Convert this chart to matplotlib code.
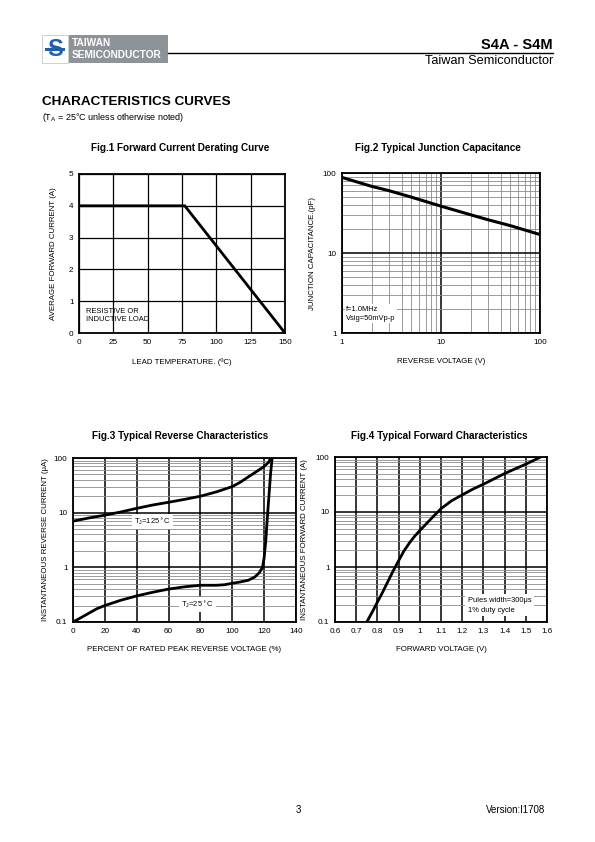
import numpy as np
import matplotlib
matplotlib.use("Agg")
import matplotlib.pyplot as plt
from matplotlib.patches import Rectangle
from matplotlib.ticker import LogLocator, NullFormatter

plt.rcParams['font.family'] = ['Liberation Sans', 'DejaVu Sans']

# ---------------- data ----------------
# Fig.1 derating
fig1_temp = [0, 77, 150]
fig1_current = [4.0, 4.0, 0.0]
fig1_xticks = [0, 25, 50, 75, 100, 125, 150]
fig1_xlabels = ['0', '25', '50', '75', '100', '125', '150']
fig1_yticks = [0, 1, 2, 3, 4, 5]

# Fig.2 junction capacitance
fig2_volt = [1, 2, 3, 5, 10, 20, 30, 50, 100]
fig2_cap = [88, 68, 60, 50, 38.5, 30, 26, 22, 17]

# Fig.3 reverse characteristics
fig3_pct_125 = [0, 10, 20, 30, 40, 50, 60, 70, 80, 90, 100, 105, 110, 115, 120, 123, 124]
fig3_ir_125 = [7, 8, 9, 10.3, 12, 13.8, 15.5, 17.5, 20, 24, 30, 36, 45, 56, 70, 85, 100]
fig3_pct_25 = [0, 5, 10, 15, 20, 30, 40, 50, 60, 70, 80, 90, 95, 100, 105, 110, 114, 117, 119, 120, 121, 122, 123, 124, 125]
fig3_ir_25 = [0.1, 0.12, 0.145, 0.175, 0.2, 0.25, 0.3, 0.35, 0.4, 0.44, 0.47, 0.47, 0.48, 0.51, 0.54, 0.58, 0.66, 0.8, 1.0, 1.5, 3.0, 8.0, 20, 50, 100]
fig3_xticks = [0, 20, 40, 60, 80, 100, 120, 140]

# Fig.4 forward characteristics
fig4_vf = [0.75, 0.775, 0.8, 0.825, 0.85, 0.875, 0.9, 0.925, 0.95, 0.975, 1.0, 1.025, 1.05, 1.075, 1.1, 1.15, 1.2, 1.25, 1.3, 1.35, 1.4, 1.45, 1.5, 1.57]
fig4_if = [0.1, 0.15, 0.23, 0.35, 0.55, 0.86, 1.3, 1.95, 2.7, 3.6, 4.6, 5.8, 7.3, 9.2, 11.5, 16, 20.5, 26, 32, 40, 50, 61, 74, 100]
fig4_xticks = [0.6, 0.7, 0.8, 0.9, 1.0, 1.1, 1.2, 1.3, 1.4, 1.5, 1.6]
fig4_xlabels = ['0.6', '0.7', '0.8', '0.9', '1', '1.1', '1.2', '1.3', '1.4', '1.5', '1.6']

log_yticks = [0.1, 1, 10, 100]
log_ylabels = ['0.1', '1', '10', '100']

W, H = 595, 842
fig = plt.figure(figsize=(W / 100, H / 100), dpi=100)

def fx(px):
    return px / W

def fy(py):
    return 1 - py / H

def ax_rect(l, t, r, b):
    return [fx(l), fy(b), (r - l) / W, (b - t) / H]

TICK_FS = 5.9
LAB_FS = 5.7
TITLE_FS = 7.2

def style(ax):
    for s in ax.spines.values():
        s.set_linewidth(1.3)
        s.set_color('black')
    ax.tick_params(which='both', length=0, labelsize=TICK_FS, pad=4, colors='black')

def place_ylabel(ax, text, px_center, left, right):
    ax.set_ylabel(text, fontsize=LAB_FS)
    ax.yaxis.set_label_coords((px_center + 5 - left) / (right - left), 0.5)

# ---------------- header ----------------
fig.patches.append(Rectangle((fx(42), fy(63)), 26 / W, 28 / H, transform=fig.transFigure,
                             facecolor='white', edgecolor='#c8c8c8', lw=0.6))
fig.text(fx(55), fy(50), 'S', color='#1f5fae', fontsize=17, fontweight='bold',
         ha='center', va='center')
fig.patches.append(Rectangle((fx(45), fy(50.5)), 20 / W, 2 / H, transform=fig.transFigure,
                             facecolor='#1f5fae', edgecolor='none'))
fig.patches.append(Rectangle((fx(69), fy(63)), 99 / W, 28 / H, transform=fig.transFigure,
                             facecolor='#8d9399', edgecolor='none'))
fig.text(fx(72), fy(42.5), 'TAIWAN', color='white', fontsize=7.3, fontweight='bold',
         ha='left', va='center')
fig.text(fx(72), fy(55.5), 'SEMICONDUCTOR', color='white', fontsize=7.3, fontweight='bold',
         ha='left', va='center')
fig.add_artist(plt.Line2D([fx(168), fx(553)], [fy(53), fy(53)], color='black', lw=1.0,
                          transform=fig.transFigure))
fig.text(fx(553), fy(45), 'S4A - S4M', fontsize=10.5, fontweight='bold', ha='right', va='center')
fig.text(fx(553), fy(61), 'Taiwan Semiconductor', fontsize=9.2, ha='right', va='center')

fig.text(fx(42), fy(102), 'CHARACTERISTICS CURVES', fontsize=9.7, fontweight='bold',
         ha='left', va='center')
fig.text(fx(42), fy(117), r'(T$_\mathregular{A}$ = 25°C unless otherwise noted)', fontsize=6.5,
         ha='left', va='center')

# ---------------- Fig.1 ----------------
ax1 = fig.add_axes(ax_rect(79, 174, 285, 333))
ax1.plot(fig1_temp, fig1_current, color='black', lw=2.0, solid_joinstyle='miter')
ax1.set_xlim(0, 150)
ax1.set_ylim(0, 5)
ax1.set_xticks(fig1_xticks)
ax1.set_xticklabels(fig1_xlabels)
ax1.set_yticks(fig1_yticks)
ax1.grid(True, color='black', lw=0.9)
ax1.set_axisbelow(True)
style(ax1)
ax1.text(5, 0.55, 'RESISTIVE OR\nINDUCTIVE LOAD', fontsize=5.4, ha='left', va='center',
         linespacing=1.3)
ax1.set_xlabel('LEAD TEMPERATURE. (ºC)', fontsize=LAB_FS, labelpad=9)
place_ylabel(ax1, 'AVERAGE FORWARD CURRENT (A)', 52, 79, 285)
fig.text(fx(180), fy(148), 'Fig.1 Forward Current Derating Curve', fontsize=TITLE_FS,
         fontweight='bold', ha='center', va='center')

# ---------------- Fig.2 ----------------
ax2 = fig.add_axes(ax_rect(342, 173, 540, 333))
ax2.set_xscale('log')
ax2.set_yscale('log')
ax2.plot(fig2_volt, fig2_cap, color='black', lw=2.2)
ax2.set_xlim(1, 100)
ax2.set_ylim(1, 100)
ax2.set_xticks([1, 10, 100])
ax2.set_xticklabels(['1', '10', '100'])
ax2.set_yticks([1, 10, 100])
ax2.set_yticklabels(['1', '10', '100'])
ax2.xaxis.set_minor_locator(LogLocator(base=10, subs=np.arange(2, 10)))
ax2.yaxis.set_minor_locator(LogLocator(base=10, subs=np.arange(2, 10)))
ax2.xaxis.set_minor_formatter(NullFormatter())
ax2.yaxis.set_minor_formatter(NullFormatter())
ax2.grid(True, which='major', color='black', lw=1.1)
ax2.grid(True, which='minor', color='#8a8a8a', lw=0.6)
ax2.set_axisbelow(True)
style(ax2)
ax2.text(1.1, 1.75, 'f=1.0MHz\nVsig=50mVp-p', fontsize=5.4, ha='left', va='center',
         linespacing=1.4,
         bbox=dict(facecolor='white', edgecolor='none', pad=1.0))
ax2.set_xlabel('REVERSE VOLTAGE (V)', fontsize=LAB_FS, labelpad=9)
place_ylabel(ax2, 'JUNCTION CAPACITANCE.(pF)', 311, 342, 540)
fig.text(fx(438), fy(148), 'Fig.2 Typical Junction Capacitance', fontsize=TITLE_FS,
         fontweight='bold', ha='center', va='center')

# ---------------- Fig.3 ----------------
ax3 = fig.add_axes(ax_rect(73, 458, 296, 622))
ax3.set_yscale('log')
ax3.plot(fig3_pct_125, fig3_ir_125, color='black', lw=2.0)
ax3.plot(fig3_pct_25, fig3_ir_25, color='black', lw=2.0)
ax3.set_xlim(0, 140)
ax3.set_ylim(0.1, 100)
ax3.set_xticks(fig3_xticks)
ax3.set_yticks(log_yticks)
ax3.set_yticklabels(log_ylabels)
ax3.yaxis.set_minor_locator(LogLocator(base=10, subs=np.arange(2, 10)))
ax3.yaxis.set_minor_formatter(NullFormatter())
ax3.grid(True, which='major', color='black', lw=1.1)
ax3.grid(True, which='minor', axis='y', color='#8a8a8a', lw=0.6)
ax3.set_axisbelow(True)
style(ax3)
ax3.text(50, 6.8, r'T$_\mathregular{J}$=125$^\circ$C', fontsize=5.4, ha='center', va='center',
         bbox=dict(facecolor='white', edgecolor='none', pad=1.5))
ax3.text(78, 0.21, r'T$_\mathregular{J}$=25$^\circ$C', fontsize=5.4, ha='center', va='center',
         bbox=dict(facecolor='white', edgecolor='none', pad=1.5))
ax3.set_xlabel('PERCENT OF RATED PEAK REVERSE VOLTAGE (%)', fontsize=LAB_FS, labelpad=8)
place_ylabel(ax3, 'INSTANTANEOUS REVERSE CURRENT (μA)', 44, 73, 296)
fig.text(fx(180), fy(436), 'Fig.3 Typical Reverse Characteristics', fontsize=TITLE_FS,
         fontweight='bold', ha='center', va='center')

# ---------------- Fig.4 ----------------
ax4 = fig.add_axes(ax_rect(335, 457, 547, 622))
ax4.set_yscale('log')
ax4.plot(fig4_vf, fig4_if, color='black', lw=2.0)
ax4.set_xlim(0.6, 1.6)
ax4.set_ylim(0.1, 100)
ax4.set_xticks(fig4_xticks)
ax4.set_xticklabels(fig4_xlabels)
ax4.set_yticks(log_yticks)
ax4.set_yticklabels(log_ylabels)
ax4.yaxis.set_minor_locator(LogLocator(base=10, subs=np.arange(2, 10)))
ax4.yaxis.set_minor_formatter(NullFormatter())
ax4.grid(True, which='major', color='black', lw=1.1)
ax4.grid(True, which='minor', axis='y', color='#8a8a8a', lw=0.6)
ax4.set_axisbelow(True)
style(ax4)
ax4.text(1.225, 0.2, 'Pules width=300μs\n1% duty cycle', fontsize=5.4, ha='left', va='center',
         linespacing=1.5,
         bbox=dict(facecolor='white', edgecolor='none', pad=2.0))
ax4.set_xlabel('FORWARD VOLTAGE (V)', fontsize=LAB_FS, labelpad=8)
place_ylabel(ax4, 'INSTANTANEOUS FORWARD CURRENT (A)', 303, 335, 547)
fig.text(fx(439), fy(436), 'Fig.4 Typical Forward Characteristics', fontsize=TITLE_FS,
         fontweight='bold', ha='center', va='center')

# ---------------- footer ----------------
fig.text(fx(298), fy(810), '3', fontsize=7, ha='center', va='center')
fig.text(fx(545), fy(810), 'Version:I1708', fontsize=7, ha='right', va='center')

fig.savefig('out.png', dpi=100)
